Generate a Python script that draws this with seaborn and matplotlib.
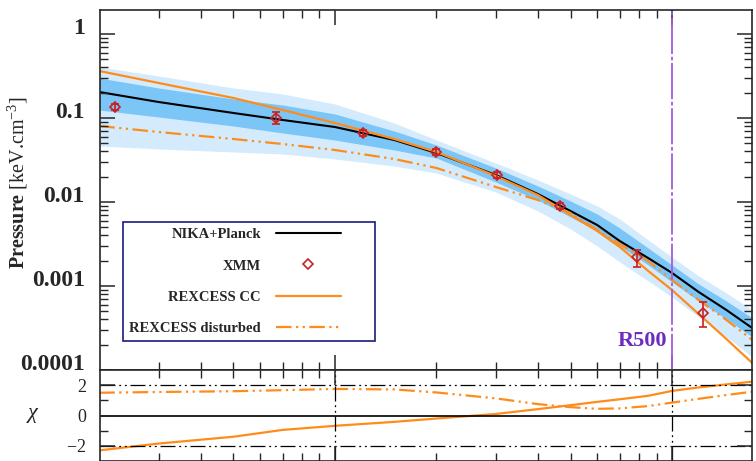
import numpy as np
import pandas as pd
import seaborn as sns
import matplotlib.pyplot as plt
from matplotlib.lines import Line2D
from matplotlib import transforms
from matplotlib.ticker import NullFormatter

# radius (units of R500) where curves were read
radius = [0.02, 0.03, 0.05, 0.07, 0.1, 0.15, 0.2, 0.3, 0.4, 0.5, 0.6, 0.7, 0.85, 1.0, 1.2, 1.45, 1.73]

# pressure profiles [keV cm^-3]
nika_planck = [0.2039, 0.1550, 0.1147, 0.0947, 0.0781, 0.0547, 0.0383, 0.0210, 0.01245, 0.00781,
               0.00532, 0.00343, 0.00215, 0.00143, 0.000848, 0.000518, 0.000316]
rexcess_cc = [0.3626, 0.2610, 0.1730, 0.1245, 0.0872, 0.0562, 0.0394, 0.0204, 0.01212, 0.00700,
              0.00452, 0.00291, 0.00151, 0.000896, 0.000464, 0.000234, 0.000121]
rexcess_dist = [0.0803, 0.0681, 0.0562, 0.0490, 0.0416, 0.0325, 0.0254, 0.0151, 0.01056, 0.00740,
                0.00464, 0.00316, 0.00198, 0.00118, 0.000681, 0.000394, 0.000228]

# 1 sigma / 2 sigma envelopes
sig1_lo = [0.1245, 0.1028, 0.0803, 0.0663, 0.0547, 0.0416, 0.0334, 0.0173, 0.01056, 0.00663,
           0.00452, 0.00299, 0.00178, 0.001116, 0.000663, 0.000405, 0.000247]
sig1_hi = [0.2993, 0.2276, 0.1684, 0.1428, 0.1116, 0.0700, 0.0477, 0.0254, 0.01551, 0.01028,
           0.00720, 0.00490, 0.00283, 0.00178, 0.001056, 0.000663, 0.000416]
sig2_lo = [0.0464, 0.0428, 0.0394, 0.0373, 0.0325, 0.0268, 0.0221, 0.01315, 0.00781, 0.00477,
           0.00299, 0.00193, 0.001147, 0.000740, 0.000428, 0.000247, 0.000143]
sig2_hi = [0.4047, 0.3162, 0.2276, 0.1931, 0.1468, 0.0872, 0.0547, 0.0291, 0.01827, 0.01245,
           0.00896, 0.00628, 0.00353, 0.00221, 0.001315, 0.000825, 0.000518]

# XMM deprojected points
xmm_r = [0.0222, 0.0668, 0.121, 0.1995, 0.3025, 0.4655, 0.787, 1.236]
xmm_p = [0.1352, 0.100, 0.0668, 0.0394, 0.0210, 0.00896, 0.00221, 0.000477]
xmm_lo = [0.1245, 0.0848, 0.0615, 0.0363, 0.0193, 0.00825, 0.00168, 0.000325]
xmm_hi = [0.1468, 0.1179, 0.0725, 0.0428, 0.0228, 0.00973, 0.00268, 0.000645]

# residuals
chi_cc = [-2.3, -1.85, -1.4, -0.95, -0.68, -0.42, -0.2, 0.1, 0.42, 0.68, 0.9, 1.07, 1.3, 1.62,
          1.85, 2.05, 2.23]
chi_dist = [1.5, 1.55, 1.6, 1.67, 1.75, 1.72, 1.52, 1.13, 0.75, 0.55, 0.44, 0.47, 0.62, 0.85,
            1.1, 1.35, 1.57]

r500 = 1.0
p_ticks = [1e-4, 1e-3, 1e-2, 1e-1, 1]
p_labels = ['0.0001', '0.001', '0.01', '0.1', '1']
chi_ticks = [-2, 0, 2]
chi_labels = ['$-2$', '0', '2']

df = pd.DataFrame({'r': radius, 'nika': nika_planck, 'cc': rexcess_cc, 'dist': rexcess_dist,
                   'chi_cc': chi_cc, 'chi_dist': chi_dist})

sns.set_style('ticks')
plt.rcParams['font.family'] = ['Liberation Serif', 'DejaVu Serif']
plt.rcParams['mathtext.fontset'] = 'custom'
plt.rcParams['mathtext.rm'] = 'Liberation Serif'
plt.rcParams['mathtext.it'] = 'Liberation Serif:italic'
plt.rcParams['mathtext.bf'] = 'Liberation Serif:bold'
plt.rcParams['axes.linewidth'] = 1.2
plt.rcParams['axes.axisbelow'] = False  # ticks must stay visible above the bands

orange = '#ff8c1a'
red = '#cc1f1f'
purple = '#a45ae0'
dashdotdot = (0, (7, 2, 1, 2, 1, 2))
gridstyle = (0, (12, 3, 1.5, 3, 1.5, 3))
xlim = (0.0201, 1.727)

# log minor ticks (2..9 in every decade)
minor_y = [m * 10.0 ** k for k in range(-4, 0) for m in range(2, 10)]
minor_x = [m * 10.0 ** k for k in range(-2, 0) for m in range(2, 10)]

fig = plt.figure(figsize=(7.56, 4.61), dpi=100)
ax1 = fig.add_axes([100 / 756, 91 / 461, 652 / 756, 360 / 461])
ax2 = fig.add_axes([100 / 756, 0, 652 / 756, 91 / 461])

# top panel
ax1.fill_between(radius, sig2_lo, sig2_hi, color='#d3ebfc', lw=0)
ax1.fill_between(radius, sig1_lo, sig1_hi, color='#7cc5f7', lw=0)
sns.lineplot(data=df, x='r', y='nika', ax=ax1, color='black', lw=1.5, estimator=None, sort=False)
sns.lineplot(data=df, x='r', y='cc', ax=ax1, color=orange, lw=1.6, estimator=None, sort=False)
sns.lineplot(data=df, x='r', y='dist', ax=ax1, color=orange, lw=1.6, estimator=None, sort=False,
             linestyle=dashdotdot)
xmm_p_arr = np.array(xmm_p)
yerr = [xmm_p_arr - np.array(xmm_lo), np.array(xmm_hi) - xmm_p_arr]
ax1.errorbar(xmm_r, xmm_p, yerr=yerr, fmt='D', ms=5, mfc='none', mec=red, mew=1.2,
             ecolor=red, elinewidth=1.2, capsize=3, capthick=1.2, zorder=5)
ax1.axvline(r500, color=purple, lw=1.3, linestyle=(0, (20, 1.5, 2, 1.5)), zorder=4)
blend = transforms.blended_transform_factory(ax1.transData, ax1.transAxes)
ax1.text(r500 * 0.966, 0.08, 'R500', transform=blend, ha='right', va='center',
         fontsize=16, fontweight='bold', color='#6c2cc0')

ax1.set_xscale('log')
ax1.set_yscale('log')
ax1.set_axisbelow(False)
ax1.set_yticks(p_ticks)
ax1.set_yticks(minor_y, minor=True)
ax1.set_xticks(minor_x, minor=True)
ax1.yaxis.set_minor_formatter(NullFormatter())
ax1.xaxis.set_minor_formatter(NullFormatter())
ax1.set_yticklabels(p_labels, fontsize=17, fontweight='bold')
for t in ax1.get_yticklabels():
    t.set_va('baseline')
ax1.set_xlim(*xlim)
ax1.set_ylim(1e-4, 1.93)
ax1.tick_params(axis='both', which='both', direction='in', top=True, right=True,
                labelbottom=False)
ax1.tick_params(axis='both', which='major', length=11, width=1.1, pad=11)
ax1.tick_params(axis='both', which='minor', length=5.5, width=1.0)
ax1.set_xlabel('')
ax1.set_ylabel('')

handles = [Line2D([], [], color='black', lw=1.5),
           Line2D([], [], ls='none', marker='D', ms=5, mfc='none', mec=red, mew=1.2),
           Line2D([], [], color=orange, lw=1.6),
           Line2D([], [], color=orange, lw=1.6, linestyle=dashdotdot)]
labels = ['NIKA+Planck', 'XMM', 'REXCESS CC', 'REXCESS disturbed']
leg = ax1.legend(handles, labels, loc='upper left', bbox_to_anchor=(0.035, 0.078, 0.387, 0.334),
                 mode='expand', alignment='right', markerfirst=False, fancybox=False,
                 frameon=True, prop={'family': 'Liberation Serif', 'weight': 'bold', 'size': 10.5},
                 handlelength=4.5, handletextpad=1.0, labelspacing=1.23, borderpad=0.45,
                 borderaxespad=0)
leg.set_zorder(10)
leg.get_frame().set_edgecolor('#1a1a80')
leg.get_frame().set_linewidth(1.2)
leg.get_frame().set_alpha(1)

fig.text(18 / 756, 1 - 183 / 461, r'$\mathbf{Pressure}$ [keV.cm$^{-3}$]', rotation=90,
         ha='center', va='center', fontsize=14.5)

# bottom panel (residuals)
sns.lineplot(data=df, x='r', y='chi_cc', ax=ax2, color=orange, lw=1.6, estimator=None, sort=False)
sns.lineplot(data=df, x='r', y='chi_dist', ax=ax2, color=orange, lw=1.6, estimator=None,
             sort=False, linestyle=dashdotdot)
ax2.axhline(0, color='black', lw=1.2)
for v in [-2, 2]:
    ax2.axhline(v, color='black', lw=0.9, linestyle=gridstyle)
for v in [0.1, r500]:
    ax2.axvline(v, color='black', lw=0.9, linestyle=gridstyle)
ax2.set_xscale('log')
ax2.set_axisbelow(False)
ax2.set_xticks(minor_x, minor=True)
ax2.xaxis.set_minor_formatter(NullFormatter())
ax2.set_xlim(*xlim)
ax2.set_yticks(chi_ticks)
ax2.set_yticklabels(chi_labels, fontsize=13)
ax2.set_yticks([-1, 1], minor=True)
ax2.set_ylim(-3, 3)
ax2.tick_params(axis='both', which='both', direction='in', top=True, right=True,
                labelbottom=False)
ax2.tick_params(axis='both', which='major', length=11, width=1.1, pad=10)
ax2.tick_params(axis='both', which='minor', length=5.5, width=1.0)
ax2.set_xlabel('')
ax2.set_ylabel('')
fig.text(33 / 756, 1 - 415 / 461, r'$\chi$', ha='center', va='center', fontsize=16)

fig.savefig('out.png', dpi=100)
